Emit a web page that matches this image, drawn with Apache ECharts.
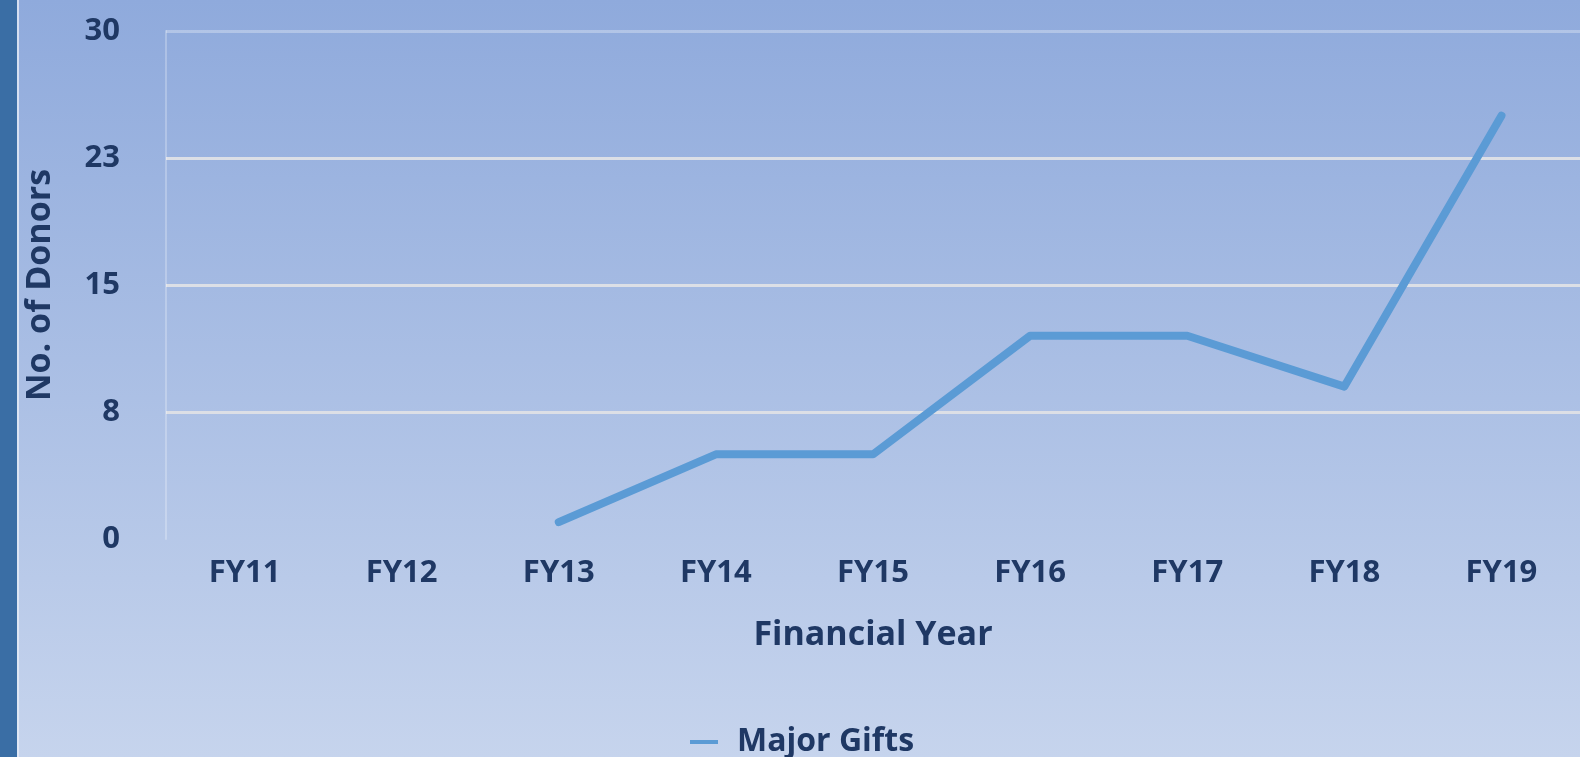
<!DOCTYPE html>
<html>
<head>
<meta charset="utf-8">
<script src="https://cdn.jsdelivr.net/npm/echarts@6/dist/echarts.min.js"></script>
<style>
  html, body { margin: 0; padding: 0; }
  #chart { width: 1580px; height: 757px; }
</style>
</head>
<body>
<div id="chart"></div>
<script>
// 数据
const years = ['FY11', 'FY12', 'FY13', 'FY14', 'FY15', 'FY16', 'FY17', 'FY18', 'FY19']
const majorGifts = [null, null, 1, 5, 5, 12, 12, 9, 25]
const yTickLabels = ['0', '8', '15', '23', '30']

const textColor = '#1f3864'
const font = 'Open Sans'

const chart = echarts.init(document.getElementById('chart'))

const option = {
  backgroundColor: new echarts.graphic.LinearGradient(0, 0, 0, 1, [
    { offset: 0, color: '#8faadc' },
    { offset: 1, color: '#c6d4ed' }
  ]),
  // 左侧深色条
  graphic: [
    { type: 'rect', left: 0, top: 0, shape: { width: 17, height: 757 }, style: { fill: '#3a6ea5' } },
    { type: 'rect', left: 17, top: 0, shape: { width: 2, height: 757 }, style: { fill: 'rgba(230,236,246,0.8)' } }
  ],
  grid: {
    left: 166,
    right: 0,
    top: 31,
    bottom: 218
  },
  legend: {
    data: ['Major Gifts'],
    left: 685,
    top: 721,
    icon: 'rect',
    itemWidth: 28,
    itemHeight: 4,
    textStyle: {
      color: textColor,
      fontFamily: font,
      fontWeight: 'bold',
      fontSize: 32,
      padding: [0, 0, 0, 14]
    }
  },
  xAxis: {
    type: 'category',
    data: years,
    boundaryGap: true,
    name: 'Financial Year',
    nameLocation: 'middle',
    nameGap: 79,
    nameTextStyle: { color: textColor, fontFamily: font, fontWeight: 'bold', fontSize: 34 },
    axisLine: { show: false },
    axisTick: { show: false },
    axisLabel: { color: textColor, fontFamily: font, fontWeight: 'bold', fontSize: 31, margin: 19 }
  },
  yAxis: {
    type: 'value',
    min: 0,
    max: 30,
    interval: 7.5,
    name: 'No. of Donors',
    nameLocation: 'middle',
    nameGap: 109,
    nameTextStyle: { color: textColor, fontFamily: font, fontWeight: 'bold', fontSize: 34 },
    axisLine: { show: true, lineStyle: { color: 'rgba(255,255,255,0.25)', width: 2 } },
    axisTick: { show: false },
    axisLabel: {
      color: textColor,
      fontFamily: font,
      fontWeight: 'bold',
      fontSize: 31,
      margin: 46,
      formatter: (value, index) => yTickLabels[index]
    },
    splitLine: {
      lineStyle: {
        color: ['transparent', '#dcdfe6', '#dcdfe6', '#dcdfe6', 'rgba(255,255,255,0.3)'],
        width: 3
      }
    }
  },
  series: [
    {
      name: 'Major Gifts',
      type: 'line',
      data: majorGifts,
      showSymbol: false,
      connectNulls: false,
      lineStyle: { color: '#5b9bd5', width: 8, cap: 'round', join: 'round' },
      itemStyle: { color: '#5b9bd5' }
    }
  ]
}

chart.setOption(option)
</script>
</body>
</html>
